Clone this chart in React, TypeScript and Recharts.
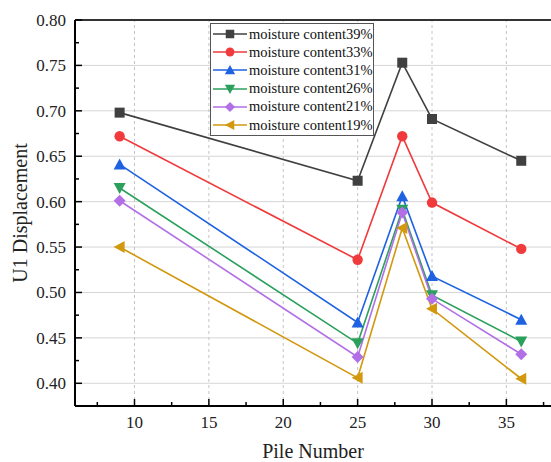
import { LineChart, Line, XAxis, YAxis, ReferenceLine, Legend, Label } from 'recharts';

const pileNumbers = [9, 25, 28, 30, 36];
const mc39 = [0.698, 0.623, 0.753, 0.691, 0.645];
const mc33 = [0.672, 0.536, 0.672, 0.599, 0.548];
const mc31 = [0.641, 0.467, 0.606, 0.518, 0.470];
const mc26 = [0.615, 0.444, 0.591, 0.497, 0.446];
const mc21 = [0.601, 0.429, 0.588, 0.493, 0.432];
const mc19 = [0.550, 0.406, 0.571, 0.482, 0.405];

const xMajor = [10, 15, 20, 25, 30, 35];
const xTicks = [7.5, 10, 12.5, 15, 17.5, 20, 22.5, 25, 27.5, 30, 32.5, 35, 37.5];
const yMajor = [0.4, 0.45, 0.5, 0.55, 0.6, 0.65, 0.7, 0.75, 0.8];
const yTicks = [0.4, 0.425, 0.45, 0.475, 0.5, 0.525, 0.55, 0.575, 0.6, 0.625, 0.65, 0.675, 0.7, 0.725, 0.75, 0.775, 0.8];

const series = [
  { key: 'mc39', name: 'moisture content39%', values: mc39, color: '#404040', shape: 'square' },
  { key: 'mc33', name: 'moisture content33%', values: mc33, color: '#F03A3C', shape: 'circle' },
  { key: 'mc31', name: 'moisture content31%', values: mc31, color: '#1E62E2', shape: 'triUp' },
  { key: 'mc26', name: 'moisture content26%', values: mc26, color: '#2AA05C', shape: 'triDown' },
  { key: 'mc21', name: 'moisture content21%', values: mc21, color: '#B26FE6', shape: 'diamond' },
  { key: 'mc19', name: 'moisture content19%', values: mc19, color: '#D2980E', shape: 'triLeft' },
];

const data = pileNumbers.map((x, i) => {
  const row: Record<string, number> = { x };
  series.forEach((s) => (row[s.key] = s.values[i]));
  return row;
});

const FONT = "'Liberation Serif', 'Times New Roman', serif";

const Marker = ({ shape, cx, cy, color, s = 1 }: any) => {
  const d = 6 * s;
  if (shape === 'square') return <rect x={cx - 5 * s} y={cy - 5 * s} width={10 * s} height={10 * s} fill={color} />;
  if (shape === 'circle') return <circle cx={cx} cy={cy} r={5.2 * s} fill={color} />;
  let pts = '';
  if (shape === 'triUp') pts = `${cx},${cy - d} ${cx - d},${cy + 5 * s} ${cx + d},${cy + 5 * s}`;
  if (shape === 'triDown') pts = `${cx - d},${cy - 5 * s} ${cx + d},${cy - 5 * s} ${cx},${cy + d}`;
  if (shape === 'diamond') pts = `${cx},${cy - d} ${cx + d},${cy} ${cx},${cy + d} ${cx - d},${cy}`;
  if (shape === 'triLeft') pts = `${cx - d},${cy} ${cx + 5 * s},${cy - d} ${cx + 5 * s},${cy + d}`;
  return <polygon points={pts} fill={color} />;
};

const makeDot = (shape: string, color: string) => (props: any) => (
  <Marker key={props.index} shape={shape} cx={props.cx} cy={props.cy} color={color} />
);

const isMajor = (v: number, step: number) => Math.abs(v / step - Math.round(v / step)) < 1e-6;

const renderXTick = (props: any) => {
  const { x, y, payload } = props;
  const major = isMajor(payload.value, 5);
  return (
    <g key={'xt' + payload.value}>
      <line x1={x} x2={x} y1={y} y2={y - (major ? 7 : 4)} stroke="#000" strokeWidth={1.5} />
      {major && (
        <text x={x} y={y + 22} textAnchor="middle" fontSize={17} fontFamily="Liberation Serif" fill="#222">
          {String(payload.value)}
        </text>
      )}
    </g>
  );
};

const renderYTick = (props: any) => {
  const { x, y, payload } = props;
  const major = isMajor(payload.value, 0.05);
  return (
    <g key={'yt' + payload.value}>
      <line x1={x} x2={x + (major ? 7 : 4)} y1={y} y2={y} stroke="#000" strokeWidth={1.5} />
      {major && (
        <text x={x - 9} y={y + 6} textAnchor="end" fontSize={17} fontFamily="Liberation Serif" fill="#222">
          {payload.value.toFixed(2)}
        </text>
      )}
    </g>
  );
};

const renderLegend = () => (
  <div style={{ border: '1.5px solid #555', background: '#fff', padding: '1px 2px 1px 2px', fontFamily: FONT }}>
    {series.map((s) => (
      <div key={s.key} style={{ display: 'flex', alignItems: 'center', height: 18.2 }}>
        <svg width={34} height={14} style={{ flexShrink: 0 }}>
          <line x1={0} x2={34} y1={7} y2={7} stroke={s.color} strokeWidth={1.5} />
          <Marker shape={s.shape} cx={17} cy={7} color={s.color} s={0.85} />
        </svg>
        <span style={{ fontSize: 14.5, color: '#111', marginLeft: 2, whiteSpace: 'nowrap' }}>{s.name}</span>
      </div>
    ))}
  </div>
);

export default function App() {
  return (
    <div style={{ position: 'absolute', left: 0, top: 0, background: '#fff', fontFamily: FONT }}>
      <LineChart width={551} height={462} data={data} margin={{ top: 20, right: 0, left: 0, bottom: 0 }}>
        {yMajor.slice(0, -1).map((v) => (
          <ReferenceLine key={'h' + v} y={v} stroke="#d6d6d6" strokeWidth={1} />
        ))}
        {xMajor.map((v) => (
          <ReferenceLine key={'v' + v} x={v} stroke="#c4c4c4" strokeWidth={1} strokeDasharray="3 3" />
        ))}
        <ReferenceLine y={0.8} stroke="#333" strokeWidth={2} />
        <XAxis
          type="number"
          dataKey="x"
          domain={[6, 38]}
          ticks={xTicks}
          allowDataOverflow
          height={56}
          tickSize={0}
          tickMargin={0}
          tickLine={false}
          tick={renderXTick}
          interval={0}
          axisLine={{ stroke: '#000', strokeWidth: 2 }}
        >
          <Label
            content={(p: any) => (
              <text x={p.viewBox.x + p.viewBox.width / 2} y={458} textAnchor="middle" fontSize={20} fontFamily="Liberation Serif" fill="#222">
                Pile Number
              </text>
            )}
          />
        </XAxis>
        <YAxis
          type="number"
          domain={[0.375, 0.8]}
          ticks={yTicks}
          allowDataOverflow
          width={75}
          tickSize={0}
          tickMargin={0}
          tickLine={false}
          tick={renderYTick}
          interval={0}
          axisLine={{ stroke: '#000', strokeWidth: 2 }}
        >
          <Label
            content={(p: any) => {
              const cx = 20;
              const cy = p.viewBox.y + p.viewBox.height / 2;
              return (
                <text x={cx} y={cy} transform={`rotate(-90, ${cx}, ${cy})`} textAnchor="middle" dominantBaseline="central" fontSize={20} fontFamily="Liberation Serif" fill="#222">
                  U1 Displacement
                </text>
              );
            }}
          />
        </YAxis>
        <Legend
          layout="vertical"
          align="center"
          verticalAlign="middle"
          content={renderLegend}
          wrapperStyle={{ left: 210, top: 23, width: 164 }}
        />
        {series.map((s) => (
          <Line
            key={s.key}
            dataKey={s.key}
            name={s.name}
            stroke={s.color}
            strokeWidth={1.6}
            dot={makeDot(s.shape, s.color)}
            activeDot={false}
            isAnimationActive={false}
          />
        ))}
      </LineChart>
    </div>
  );
}
